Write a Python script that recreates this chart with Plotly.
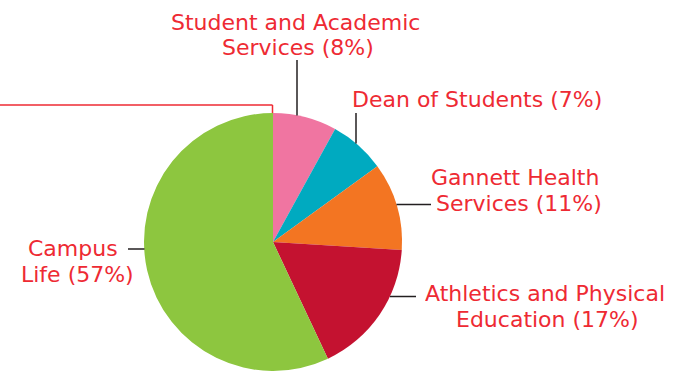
import plotly.graph_objects as go

categories = ["Student and Academic Services", "Dean of Students", "Gannett Health Services",
              "Athletics and Physical Education", "Campus Life"]
values = [8, 7, 11, 17, 57]
colors = ["#F075A1", "#00AAC0", "#F37522", "#C41230", "#8DC63F"]
label_lines = [["Student and Academic", "Services (8%)"],
               ["Dean of Students (7%)"],
               ["Gannett Health", "Services (11%)"],
               ["Athletics and Physical", "Education (17%)"],
               ["Campus", "Life (57%)"]]

W, H = 673, 371
CX, CY, R = 273, 242, 129
TEXT_RED = "#EE2A33"
LINE = "#231F20"
FONT = "DejaVu Sans"
FS = 22

def px(x):
    return x / W

def py(y):
    return 1 - y / H

fig = go.Figure(go.Pie(
    labels=categories, values=values, sort=False, direction="clockwise", rotation=0,
    marker=dict(colors=colors, line=dict(width=0)),
    textinfo="none", hoverinfo="none", showlegend=False,
    domain=dict(x=[px(CX - R), px(CX + R)], y=[py(CY + R), py(CY - R)]),
))

# label line positions (center x, center y) in pixels
pos = [[(295, 22), (298, 47.5)],
       [(477, 99)],
       [(515, 177), (519, 202.5)],
       [(545, 293), (547, 318.5)],
       [(73, 248), (77, 273.5)]]

anns = []
for lines, ps in zip(label_lines, pos):
    for t, (x, y) in zip(lines, ps):
        anns.append(dict(text=t, x=px(x), y=py(y), xref="paper", yref="paper",
                         xanchor="center", yanchor="middle", showarrow=False, borderpad=0,
                         height=24, valign="middle",
                         font=dict(family=FONT, size=FS, color=TEXT_RED)))

def seg(x0, y0, x1, y1, color=LINE, w=1.5):
    return dict(type="line", xref="paper", yref="paper", x0=px(x0), y0=py(y0),
                x1=px(x1), y1=py(y1), line=dict(color=color, width=w))

shapes = [
    seg(297, 60, 297, 115.5),
    seg(356, 113, 356, 143.5),
    seg(396.5, 204.5, 431, 204.5),
    seg(390, 296.5, 416, 296.5),
    seg(128, 249, 144.5, 249),
    seg(0, 105, 272.5, 105, TEXT_RED, 1.5),
    seg(272.5, 105, 272.5, 113, TEXT_RED, 1.5),
]

fig.update_layout(width=W, height=H, margin=dict(l=0, r=0, t=0, b=0),
                  paper_bgcolor="white", plot_bgcolor="white",
                  annotations=anns, shapes=shapes)
fig.write_html("out.html")
